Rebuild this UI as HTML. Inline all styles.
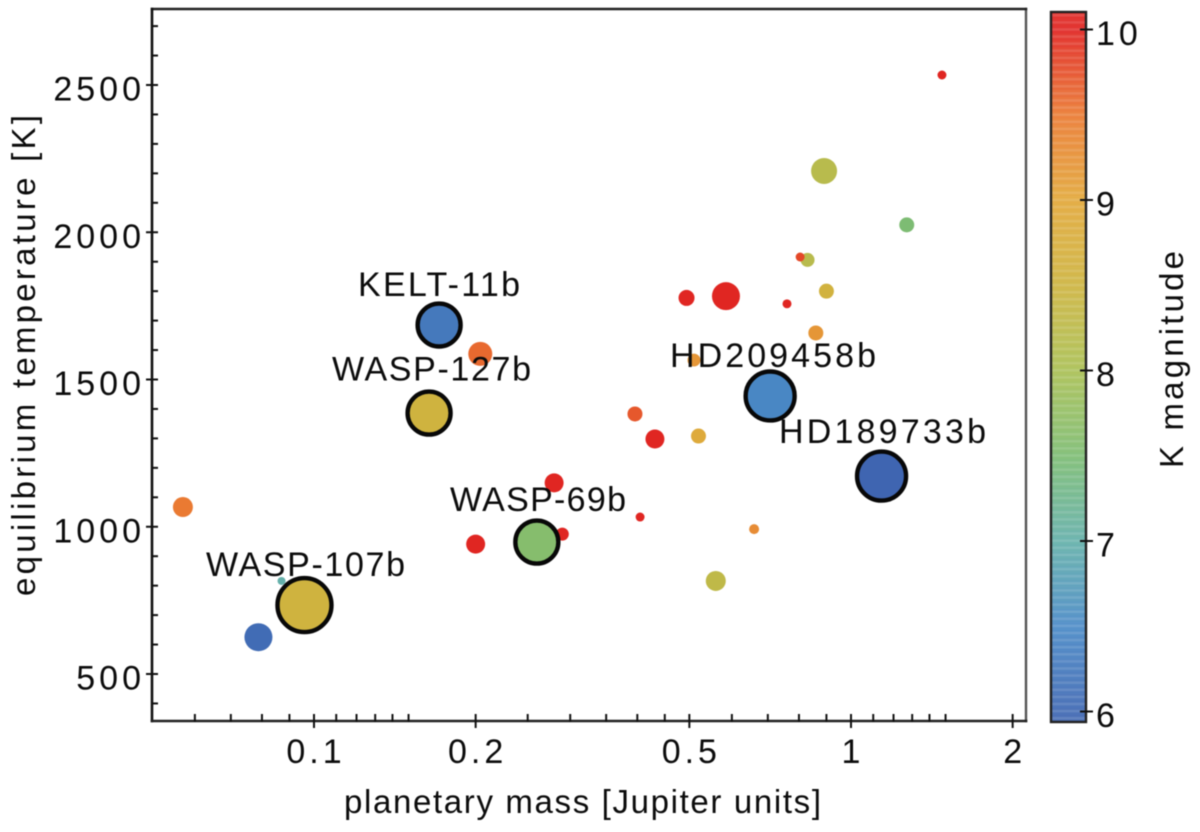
<!DOCTYPE html>
<html lang="en">
<head>
<meta charset="utf-8">
<title>Equilibrium temperature vs planetary mass</title>
<style>
  html, body { margin: 0; padding: 0; background: #fff; }
  body { width: 1200px; height: 832px; overflow: hidden; }
  svg { display: block; filter: blur(0.6px); }
  text { font-family: "Liberation Sans", Arial, sans-serif; fill: #0c0c0c; }
  .tick { font-size: 34px; letter-spacing: 4px; }
  .title { font-size: 33px; }
  .planet { font-size: 34px; }
</style>
</head>
<body>
<svg id="chart" width="1200" height="832" viewBox="0 0 1200 832" xmlns="http://www.w3.org/2000/svg">
  <rect x="0" y="0" width="1200" height="832" fill="#fff"/>
  <g id="markers"></g>
  <g id="highlights"></g>
  <g stroke-linecap="square">
    <line x1="1026" y1="9" x2="1026" y2="721" stroke="#555" stroke-width="2.4"/>
    <line x1="152" y1="9" x2="1026" y2="9" stroke="#222" stroke-width="2.4"/>
    <line x1="152" y1="9" x2="152" y2="721" stroke="#111" stroke-width="2.6"/>
    <line x1="152" y1="721" x2="1026" y2="721" stroke="#222" stroke-width="2.6"/>
  </g>
  <g id="x-axis"></g>
  <g id="y-axis"></g>
  <g id="colorbar"></g>

  <text class="planet" x="358" y="296" textLength="162" lengthAdjust="spacing">KELT-11b</text>
  <text class="planet" x="332" y="380.5" textLength="199" lengthAdjust="spacing">WASP-127b</text>
  <text class="planet" x="670" y="367" textLength="206" lengthAdjust="spacing">HD209458b</text>
  <text class="planet" x="779" y="443" textLength="207" lengthAdjust="spacing">HD189733b</text>
  <text class="planet" x="450" y="511" textLength="176" lengthAdjust="spacing">WASP-69b</text>
  <text class="planet" x="206" y="576" textLength="199" lengthAdjust="spacing">WASP-107b</text>

  <text class="title" x="344" y="813" textLength="477" lengthAdjust="spacing">planetary mass [Jupiter units]</text>
  <text class="title" transform="translate(35 596) rotate(-90)" textLength="481" lengthAdjust="spacing">equilibrium temperature [K]</text>
  <text class="title" transform="translate(1183 468) rotate(-90)" textLength="217" lengthAdjust="spacing">K magnitude</text>
</svg>

<script>
// ---- Data ----
const planetMass = [1.477, 0.891, 1.27, 0.83, 0.804, 0.90, 0.585, 0.494, 0.76, 0.86, 0.51, 0.204, 0.396, 0.4314, 0.52, 0.28, 0.4048, 0.29, 0.2, 0.057, 0.66, 0.56, 0.087, 0.0788];
const planetTemp = [2534, 2208, 2025, 1906, 1916, 1800, 1783, 1777, 1757, 1658, 1566, 1587, 1383, 1298, 1308, 1149, 1033, 975, 941, 1067, 992, 816, 816, 625];
const planetKmag = [10, 8.2, 7.5, 8.2, 9.8, 8.6, 10, 10, 10, 9.2, 9.2, 9.6, 9.7, 10, 8.9, 10, 10, 10, 10, 9.5, 9.3, 8.3, 7.0, 6.05];
const planetSignal = [20, 169, 56, 49, 20, 56, 196, 64, 20, 56, 42, 144, 56, 90, 56, 90, 20, 42, 90, 100, 25, 100, 16, 196];

const featuredMass = [0.171, 0.1638, 0.707, 1.14, 0.26, 0.096];
const featuredTemp = [1685, 1386, 1444, 1172, 948, 734];
const featuredKmag = [6.25, 8.55, 6.45, 5.95, 7.6, 8.55];
const featuredSignal = [462, 462, 600, 600, 462, 729];

const xMajorTicks = [0.1, 0.2, 0.5, 1, 2];
const xMajorLabels = ["0.1", "0.2", "0.5", "1", "2"];
const xMinorTicks = [0.06, 0.07, 0.08, 0.09, 0.11, 0.12, 0.13, 0.14, 0.15, 0.25, 0.3, 0.35, 0.4, 0.45, 0.6, 0.7, 0.8, 0.9, 1.1, 1.2, 1.3, 1.4, 1.5];
const yMajorTicks = [500, 1000, 1500, 2000, 2500];
const yMinorTicks = [400, 600, 700, 800, 900, 1100, 1200, 1300, 1400, 1600, 1700, 1800, 1900, 2100, 2200, 2300, 2400, 2600, 2700];
const colorbarTicks = [6, 7, 8, 9, 10];

const colorStopK = [5.9, 6.5, 7, 7.5, 8, 8.5, 9, 9.5, 10];
const colorStopRgb = [[62, 98, 175], [74, 138, 198], [100, 176, 170], [125, 188, 115], [170, 192, 85], [205, 180, 64], [226, 168, 58], [234, 122, 50], [224, 38, 34]];

// ---- Scales ----
function xScale(mass) { return 851 + 537 * Math.log10(mass); }
function yScale(temp) { return 674 - (temp - 500) * 0.2945; }
function kScale(k) { return 711.5 - (k - 6) * 170.5; }
function radiusScale(signal) { return Math.sqrt(signal); }
function kColor(k, lighten) {
  let i = 0;
  while (i < colorStopK.length - 2 && k > colorStopK[i + 1]) i++;
  const t = Math.max(0, Math.min(1, (k - colorStopK[i]) / (colorStopK[i + 1] - colorStopK[i])));
  const mix = colorStopRgb[i].map((c, j) => c + (colorStopRgb[i + 1][j] - c) * t);
  const rgb = mix.map(c => Math.round(c + (255 - c) * (lighten || 0)));
  return "rgb(" + rgb.join(",") + ")";
}

const NS = "http://www.w3.org/2000/svg";
function make(tag, parent, attrs) {
  const el = document.createElementNS(NS, tag);
  Object.keys(attrs).forEach(k => el.setAttribute(k, attrs[k]));
  parent.appendChild(el);
  return el;
}

// ---- Ordinary planets ----
const markerGroup = document.getElementById("markers");
planetMass.forEach((m, i) => {
  const c = make("circle", markerGroup, {
    cx: xScale(m), cy: yScale(planetTemp[i]), r: radiusScale(planetSignal[i]), fill: kColor(planetKmag[i])
  });
  
  
});

// ---- Labelled planets ----
const highlightGroup = document.getElementById("highlights");
featuredMass.forEach((m, i) => {
  const c = make("circle", highlightGroup, {
    cx: xScale(m), cy: yScale(featuredTemp[i]), r: radiusScale(featuredSignal[i]), fill: kColor(featuredKmag[i]),
    stroke: "#080808", "stroke-width": 4.4
  });
  
  
});

// ---- X axis ----
const xAxis = document.getElementById("x-axis");
xMinorTicks.forEach(v => {
  const t = make("line", xAxis, { x1: xScale(v), x2: xScale(v), y1: 714, y2: 722, stroke: "#111", "stroke-width": 2 });
  
  
});
xMajorTicks.forEach((v, i) => {
  const t = make("line", xAxis, { x1: xScale(v), x2: xScale(v), y1: 714, y2: 728, stroke: "#111", "stroke-width": 2 });
  
  
  const l = make("text", xAxis, { x: xScale(v) + 2, y: 763, "text-anchor": "middle", class: "tick" });
  l.textContent = xMajorLabels[i];
  
  
});

// ---- Y axis ----
const yAxis = document.getElementById("y-axis");
yMinorTicks.forEach(v => {
  const t = make("line", yAxis, { x1: 151, x2: 158, y1: yScale(v), y2: yScale(v), stroke: "#111", "stroke-width": 2 });
  
  
});
yMajorTicks.forEach(v => {
  const t = make("line", yAxis, { x1: 146, x2: 158, y1: yScale(v), y2: yScale(v), stroke: "#111", "stroke-width": 2 });
  
  
  const l = make("text", yAxis, { x: 145, y: yScale(v) + 15.5, "text-anchor": "end", class: "tick" });
  l.textContent = String(v);
  
  
});

// ---- Colour bar ----
const cbar = document.getElementById("colorbar");
const cbarTop = 12, cbarBottom = 722, cbarLeft = 1051, cbarRight = 1086, cbarStep = 7.1;
for (let y = cbarTop; y < cbarBottom; y += cbarStep) {
  const k = 6 + (711.5 - (y + cbarStep / 2)) / 170.5;
  const band = make("rect", cbar, { x: cbarLeft, y: y, width: cbarRight - cbarLeft, height: cbarStep + 0.3, fill: kColor(k, 0.07) });
  
  
  const stripe = make("rect", cbar, { x: cbarLeft, y: y + 2, width: cbarRight - cbarLeft, height: 2.6, fill: "#fff", opacity: 0.12 });
  
  
}
const cbarFrame = make("rect", cbar, { x: cbarLeft, y: cbarTop, width: cbarRight - cbarLeft, height: cbarBottom - cbarTop, fill: "none", stroke: "#222", "stroke-width": 2.4 });


colorbarTicks.forEach(v => {
  const t = make("line", cbar, { x1: 1080, x2: 1093, y1: kScale(v), y2: kScale(v), stroke: "#111", "stroke-width": 2 });
  
  
  const l = make("text", cbar, { x: 1096, y: kScale(v) + 15.5, class: "tick" });
  l.textContent = String(v);
  
  
});
</script>
</body>
</html>
